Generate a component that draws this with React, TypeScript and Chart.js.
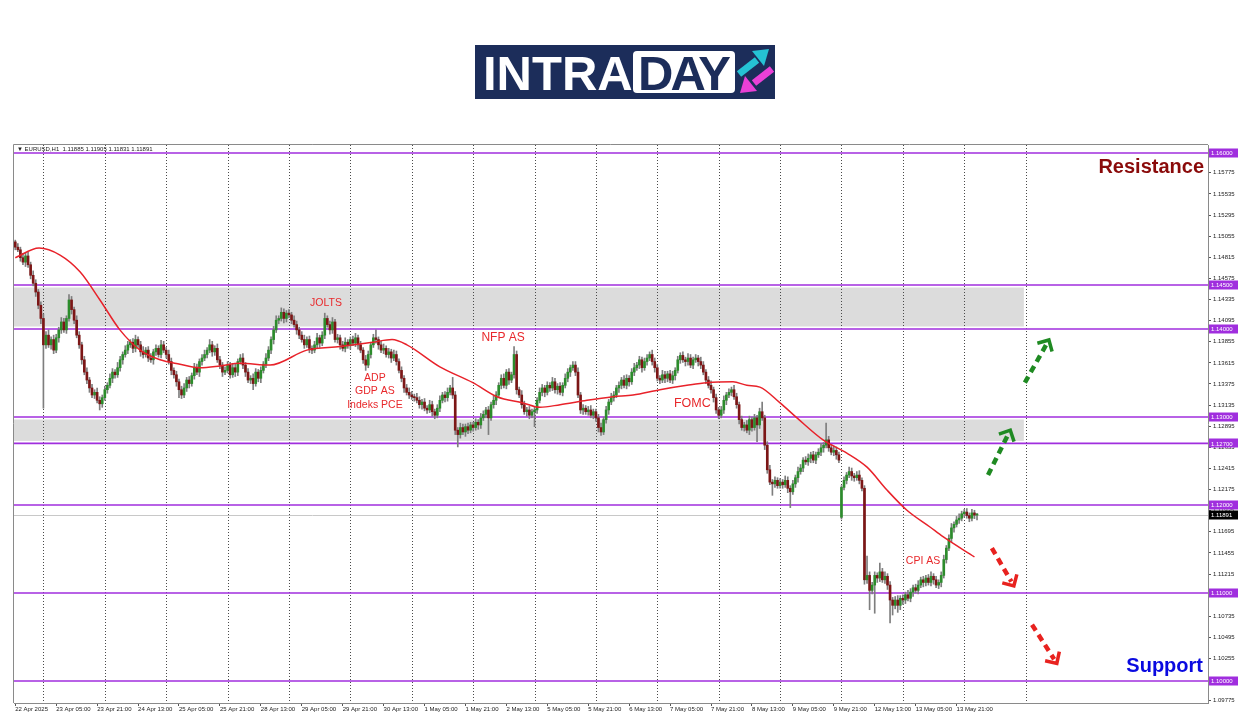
import React, { useEffect, useRef } from "react";
import { Chart, registerables } from "chart.js";

Chart.register(...registerables);

const PRICE_BASE = 1.1;
const PIP = 0.0001;

// EURUSD H1, prices in pips above 1.10000, one candle per hour: 22 Apr 13:00 -> 14 May 05:00
const firstOpenPips = 499;
const gapOpens: [number, number][] = [[323, 186]];

const closePips = [
  // 22 Apr
  493, 490, 481, 476, 483, 473, 461, 452, 442, 427, 412,
  // 23 Apr
  382, 393, 382, 388, 376, 390, 399, 408, 399, 412, 433, 422, 410, 393, 382, 365, 351, 342, 333, 325, 328, 319, 315, 322,
  // 24 Apr
  331, 336, 344, 351, 348, 356, 365, 371, 376, 382, 385, 378, 388, 382, 374, 371, 376, 367, 365, 374, 378, 371, 382, 376,
  // 25 Apr
  371, 363, 353, 348, 340, 331, 325, 333, 342, 338, 347, 356, 351, 363, 367, 371, 376, 382, 374, 378, 365, 359, 351, 353,
  // 28 Apr
  359, 348, 356, 351, 363, 367, 359, 351, 342, 344, 338, 351, 344, 353, 360, 367, 376, 388, 399, 410, 412, 419, 412, 418,
  // 29 Apr
  416, 410, 405, 399, 393, 388, 382, 388, 378, 376, 382, 390, 384, 393, 412, 405, 399, 408, 388, 390, 382, 378, 385, 381,
  // 30 Apr
  388, 384, 390, 382, 376, 365, 359, 371, 382, 390, 388, 382, 376, 378, 371, 374, 367, 371, 363, 353, 344, 333, 328, 325,
  // 1 May
  323, 322, 319, 314, 317, 310, 308, 314, 306, 302, 310, 319, 325, 322, 328, 333, 325, 285, 280, 288, 283, 289, 285, 291,
  // 2 May
  288, 294, 291, 299, 303, 308, 299, 314, 319, 325, 336, 344, 336, 351, 342, 348, 371, 331, 325, 314, 306, 308, 302, 306,
  // 5 May
  308, 319, 328, 333, 328, 336, 333, 340, 331, 335, 328, 336, 344, 351, 356, 359, 351, 325, 308, 310, 306, 308, 302, 306,
  // 6 May
  299, 288, 283, 297, 308, 317, 322, 325, 333, 336, 342, 336, 344, 340, 351, 356, 359, 365, 356, 363, 367, 371, 363, 356,
  // 7 May
  344, 342, 348, 344, 349, 342, 347, 353, 365, 370, 365, 363, 367, 359, 365, 367, 363, 359, 351, 342, 336, 331, 322, 308,
  // 8 May
  302, 308, 319, 325, 328, 331, 323, 314, 297, 288, 291, 285, 297, 288, 299, 291, 306, 299, 268, 240, 226, 224, 228, 222,
  // 9 May
  226, 223, 228, 219, 215, 224, 231, 238, 242, 251, 249, 253, 257, 251, 257, 260, 265, 268, 274, 265, 260, 262, 257, 251,
  // 12 May
  220, 228, 234, 238, 233, 231, 234, 228, 219, 115, 120, 103, 109, 120, 117, 124, 115, 119, 109, 92, 86, 92, 86, 94,
  // 13 May
  92, 98, 94, 101, 106, 103, 109, 115, 112, 117, 112, 119, 115, 109, 112, 120, 138, 151, 162, 174, 178, 183, 185, 190,
  // 14 May
  192, 188, 185, 191, 188.5, 189.1,
];

const upperWickPips = [
  2, 4, 3, 5, 3, 4, 3, 5, 4, 3, 4,
  5, 4, 6, 3, 5, 4, 3, 5, 4, 3, 6, 4, 3, 5, 4, 3, 4, 5, 3, 4, 3, 5, 4, 3,
  4, 3, 5, 4, 3, 6, 4, 3, 5, 4, 3, 4, 5, 3, 4, 6, 3, 4, 5, 3, 4, 3, 5, 4,
  3, 5, 4, 3, 4, 3, 4, 5, 3, 4, 3, 5, 4, 3, 4, 5, 3, 6, 4, 3, 5, 4, 3, 4,
  4, 3, 5, 4, 3, 4, 5, 3, 4, 3, 5, 4, 3, 4, 3, 5, 4, 3, 4, 5, 3, 5, 4, 3,
  4, 3, 5, 4, 3, 4, 5, 3, 4, 3, 4, 5, 3, 4, 6, 3, 4, 5, 3, 4, 3, 4, 5, 3,
  3, 4, 5, 3, 4, 3, 5, 4, 3, 4, 9, 3, 4, 5, 3, 4, 3, 5, 4, 3, 4, 3, 4, 5,
  4, 3, 5, 4, 3, 4, 3, 5, 4, 3, 4, 5, 3, 4, 5, 3, 12, 4, 3, 5, 4, 3, 4, 3,
  3, 4, 3, 5, 4, 3, 4, 3, 5, 4, 3, 4, 5, 3, 4, 3, 9, 4, 3, 5, 4, 3, 4, 3,
  4, 3, 5, 4, 3, 4, 3, 5, 4, 3, 4, 3, 5, 4, 3, 4, 4, 5, 3, 4, 3, 4, 5, 3,
  3, 4, 5, 3, 4, 3, 5, 4, 3, 4, 3, 5, 4, 3, 4, 5, 3, 4, 3, 4, 4, 3, 5, 4,
  4, 3, 5, 4, 3, 4, 5, 3, 4, 3, 4, 3, 5, 4, 3, 4, 3, 5, 4, 3, 4, 5, 3, 4,
  3, 4, 5, 3, 4, 3, 5, 4, 3, 4, 3, 5, 4, 3, 4, 3, 4, 11, 3, 4, 5, 3, 4, 3,
  4, 3, 5, 4, 3, 4, 3, 5, 4, 3, 4, 5, 3, 4, 3, 4, 5, 3, 19, 4, 3, 5, 4, 3,
  2, 4, 3, 5, 4, 3, 4, 5, 3, 3, 22, 4, 3, 4, 3, 10, 4, 5, 3, 4, 3, 4, 5, 3,
  4, 3, 5, 4, 3, 4, 5, 3, 4, 3, 4, 5, 3, 4, 3, 4, 5, 3, 4, 5, 3, 4, 5, 3,
  3, 4, 3, 4, 3, 1.4,
];

const lowerWickPips = [
  3, 2, 4, 3, 5, 3, 4, 3, 5, 4, 6,
  72, 4, 3, 5, 4, 3, 5, 4, 3, 4, 3, 5, 4, 3, 4, 5, 3, 4, 5, 3, 4, 3, 7, 4,
  3, 4, 3, 5, 4, 3, 4, 5, 3, 4, 3, 5, 4, 3, 5, 4, 3, 4, 3, 5, 4, 3, 4, 3,
  4, 3, 5, 4, 5, 9, 4, 3, 4, 5, 3, 4, 3, 5, 4, 3, 4, 3, 5, 4, 3, 4, 5, 3,
  3, 4, 3, 5, 4, 3, 4, 5, 3, 4, 7, 3, 4, 5, 3, 4, 3, 4, 5, 3, 4, 3, 5, 4,
  3, 4, 3, 5, 4, 3, 4, 3, 5, 4, 3, 4, 5, 3, 4, 3, 5, 4, 3, 4, 5, 3, 4, 3,
  4, 3, 4, 5, 3, 4, 6, 3, 4, 3, 4, 5, 3, 4, 3, 4, 5, 3, 4, 3, 4, 5, 3, 4,
  3, 4, 3, 4, 5, 3, 4, 3, 5, 4, 3, 4, 3, 5, 4, 3, 4, 5, 14, 4, 3, 5, 4, 3,
  4, 3, 5, 4, 3, 4, 19, 3, 4, 5, 3, 4, 3, 4, 5, 3, 4, 5, 3, 4, 3, 5, 4, 3,
  17, 4, 3, 4, 5, 3, 4, 3, 4, 5, 3, 4, 3, 4, 5, 3, 4, 3, 4, 5, 3, 4, 3, 4,
  4, 5, 4, 3, 4, 5, 3, 4, 3, 5, 4, 3, 4, 5, 3, 4, 3, 4, 5, 3, 4, 3, 4, 5,
  3, 4, 3, 5, 4, 3, 4, 5, 3, 4, 3, 5, 4, 3, 4, 3, 5, 4, 3, 4, 3, 4, 5, 4,
  4, 3, 4, 5, 3, 4, 3, 4, 5, 3, 4, 3, 5, 4, 3, 19, 4, 3, 5, 4, 3, 13, 4, 3,
  3, 4, 3, 5, 18, 3, 4, 5, 3, 4, 3, 4, 5, 3, 4, 3, 4, 5, 3, 4, 3, 4, 5, 3,
  2, 3, 4, 3, 5, 4, 3, 4, 3, 5, 4, 22, 4, 32, 5, 4, 3, 4, 5, 26, 11, 4, 8, 5,
  5, 4, 3, 4, 5, 3, 4, 3, 5, 4, 3, 4, 5, 3, 4, 5, 3, 4, 3, 4, 5, 3, 4, 3,
  4, 3, 4, 3, 4, 5.4,
];

// Moving average (red line), read at selected candle positions
const maIdx = [0, 9.3, 17.5, 25.3, 33.1, 40.9, 48.8, 56.6, 64.4, 72.2, 80, 87.9, 99.6, 114, 127, 139.8, 147.3, 153.1, 166, 178.9, 188.3, 198.5, 205.1, 213, 223.5, 233.7, 241.5, 252, 262.6, 270.4, 280.6, 286, 291.1, 299, 305.6, 315.8, 325.1, 333, 340.8, 348.6, 357.6, 362.7, 375];
const maPips = [481, 492, 484, 465, 433, 399, 376, 365, 360, 356, 358, 361, 359, 376, 380, 385, 388, 382, 357, 339, 323, 316, 311, 314, 319, 323, 325, 331, 336, 339, 340, 336, 334, 316, 299, 274, 259, 243, 217, 194, 175, 164, 141];

const xTickIdx = [0, 16, 32, 48, 64, 80, 96, 112, 128, 144, 160, 176, 192, 208, 224, 240, 256, 272, 288, 304, 320, 336, 352, 368];
const xTickLabels = [
  "22 Apr 2025", "23 Apr 05:00", "23 Apr 21:00", "24 Apr 13:00", "25 Apr 05:00", "25 Apr 21:00",
  "28 Apr 13:00", "29 Apr 05:00", "29 Apr 21:00", "30 Apr 13:00", "1 May 05:00", "1 May 21:00",
  "2 May 13:00", "5 May 05:00", "5 May 21:00", "6 May 13:00", "7 May 05:00", "7 May 21:00",
  "8 May 13:00", "9 May 05:00", "9 May 21:00", "12 May 13:00", "13 May 05:00", "13 May 21:00",
];
const daySeparatorIdx = [11, 35, 59, 83, 107, 131, 155, 179, 203, 227, 251, 275, 299, 323, 347, 371, 395];

const yTickValues = [
  1.15775, 1.15535, 1.15295, 1.15055, 1.14815, 1.14575, 1.14335, 1.14095, 1.13855, 1.13615,
  1.13375, 1.13135, 1.12895, 1.12655, 1.12415, 1.12175, 1.11935, 1.11695, 1.11455, 1.11215,
  1.10975, 1.10735, 1.10495, 1.10255, 1.10015, 1.09775,
];

const levels = [1.16, 1.145, 1.14, 1.13, 1.127, 1.12, 1.11, 1.1];
const zones: [number, number][] = [[1.14, 1.145], [1.127, 1.13]];
const zoneEndIdx = 394.3;
const lastPrice = 1.11891;
const headerText = "\u25BC EURUSD,H1  1.11885 1.11905 1.11831 1.11891";

const notes = [
  { text: "JOLTS", idx: 121.5, price: 1.14296, size: 10.5 },
  { text: "NFP AS", idx: 190.7, price: 1.13898, size: 12 },
  { text: "ADP", idx: 140.6, price: 1.13443, size: 10.5 },
  { text: "GDP AS", idx: 140.6, price: 1.13295, size: 10.5 },
  { text: "Indeks PCE", idx: 140.6, price: 1.13136, size: 10.5 },
  { text: "FOMC", idx: 264.7, price: 1.1315, size: 12.5 },
  { text: "CPI AS", idx: 354.9, price: 1.11364, size: 10.5 },
];

const arrows = [
  { from: [380.3, 1.1234], to: [389.0, 1.1285], color: "#1f8a22" },
  { from: [394.7, 1.1339], to: [404.1, 1.13875], color: "#1f8a22" },
  { from: [381.8, 1.1151], to: [390.4, 1.1108], color: "#e8221f" },
  { from: [397.5, 1.1064], to: [407.2, 1.102], color: "#e8221f" },
];

const UP = "#2c8c2c";
const DOWN = "#7c1616";
const WICK = "#7e7e7e";
const LEVEL = "#a02ede";
const FONT = '"Liberation Sans", "DejaVu Sans", Arial, sans-serif';

export default function App() {
  const ref = useRef<HTMLCanvasElement | null>(null);

  useEffect(() => {
    const canvas = ref.current;
    if (!canvas) return;
    const toPrice = (p: number) => PRICE_BASE + p * PIP;
    const opens = closePips.map((c, i) => {
      if (i === 0) return firstOpenPips;
      const g = gapOpens.find(([gi]) => gi === i);
      return g ? g[1] : closePips[i - 1];
    });
    const bodies = closePips.map((c, i) => ({ x: i, y: [toPrice(opens[i]), toPrice(c)] }));
    const wicks = closePips.map((c, i) => ({
      x: i,
      y: [toPrice(Math.min(opens[i], c) - lowerWickPips[i]), toPrice(Math.max(opens[i], c) + upperWickPips[i])],
    }));
    const bodyColors = closePips.map((c, i) => (c >= opens[i] ? UP : DOWN));
    const ma = maIdx.map((x, k) => ({ x, y: toPrice(maPips[k]) }));

    const line = (ctx: CanvasRenderingContext2D, x1: number, y1: number, x2: number, y2: number) => {
      ctx.beginPath();
      ctx.moveTo(x1, y1);
      ctx.lineTo(x2, y2);
      ctx.stroke();
    };

    const overlay = {
      id: "overlay",
      beforeDatasetsDraw(chart: any) {
        const { ctx, chartArea } = chart;
        const { left, right, top, bottom } = chartArea;
        const xs = chart.scales.x;
        const ys = chart.scales.y;
        ctx.save();
        ctx.fillStyle = "#dcdcdc";
        const zx2 = xs.getPixelForValue(zoneEndIdx);
        for (const [lo, hi] of zones) {
          const y1 = ys.getPixelForValue(hi) + 2.5;
          const y2 = ys.getPixelForValue(lo) - 2.5;
          ctx.fillRect(left, y1, zx2 - left, y2 - y1);
        }
        ctx.strokeStyle = "#4a4a4a";
        ctx.lineWidth = 1;
        ctx.setLineDash([1, 2]);
        for (const d of daySeparatorIdx) {
          const px = Math.round(xs.getPixelForValue(d)) + 0.5;
          line(ctx, px, top, px, bottom);
        }
        ctx.setLineDash([]);
        const lp = Math.round(ys.getPixelForValue(lastPrice)) + 0.5;
        ctx.strokeStyle = "#c8c8c8";
        line(ctx, left, lp, right, lp);
        ctx.strokeStyle = LEVEL;
        ctx.lineWidth = 1.6;
        for (const v of levels) {
          const py = ys.getPixelForValue(v);
          line(ctx, left, py, right, py);
        }
        ctx.strokeStyle = "#8a8a8a";
        ctx.lineWidth = 1;
        ctx.beginPath();
        ctx.moveTo(left - 0.5, bottom);
        ctx.lineTo(left - 0.5, top - 0.5);
        ctx.lineTo(right, top - 0.5);
        ctx.stroke();
        ctx.restore();
      },
      afterDraw(chart: any) {
        const { ctx, chartArea } = chart;
        const { right } = chartArea;
        const xs = chart.scales.x;
        const ys = chart.scales.y;
        ctx.save();
        // event notes
        ctx.textAlign = "center";
        ctx.textBaseline = "middle";
        ctx.fillStyle = "#e8282b";
        for (const n of notes) {
          ctx.font = `${n.size}px ${FONT}`;
          ctx.fillText(n.text, xs.getPixelForValue(n.idx), ys.getPixelForValue(n.price));
        }
        // resistance / support
        ctx.textAlign = "right";
        ctx.font = `bold 20px ${FONT}`;
        ctx.fillStyle = "#8a0a0a";
        ctx.fillText("Resistance", right - 4, ys.getPixelForValue(1.15841));
        ctx.fillStyle = "#0a0ae0";
        ctx.fillText("Support", right - 5, ys.getPixelForValue(1.1017));
        // arrows
        for (const a of arrows) {
          const x1 = xs.getPixelForValue(a.from[0]);
          const y1 = ys.getPixelForValue(a.from[1]);
          const x2 = xs.getPixelForValue(a.to[0]);
          const y2 = ys.getPixelForValue(a.to[1]);
          const ang = Math.atan2(y2 - y1, x2 - x1);
          ctx.strokeStyle = a.color;
          ctx.lineWidth = 4.5;
          ctx.lineCap = "butt";
          ctx.setLineDash([7, 5]);
          line(ctx, x1, y1, x2 - 5 * Math.cos(ang), y2 - 5 * Math.sin(ang));
          ctx.setLineDash([]);
          ctx.lineWidth = 3.5;
          ctx.lineJoin = "miter";
          const len = 12;
          ctx.beginPath();
          ctx.moveTo(x2 - len * Math.cos(ang - 0.78), y2 - len * Math.sin(ang - 0.78));
          ctx.lineTo(x2, y2);
          ctx.lineTo(x2 - len * Math.cos(ang + 0.78), y2 - len * Math.sin(ang + 0.78));
          ctx.stroke();
        }
        // price boxes on the axis
        ctx.font = `6px ${FONT}`;
        ctx.textAlign = "left";
        ctx.textBaseline = "middle";
        const box = (v: number, bg: string) => {
          const py = ys.getPixelForValue(v);
          ctx.fillStyle = bg;
          ctx.fillRect(right + 1, Math.round(py) - 4.5, 29, 9);
          ctx.fillStyle = "#ffffff";
          ctx.fillText(v.toFixed(5), right + 3, py + 0.5);
        };
        for (const v of levels) box(v, LEVEL);
        box(lastPrice, "#000000");
        // header
        ctx.fillStyle = "#222";
        ctx.font = `6px ${FONT}`;
        ctx.fillText(headerText, chartArea.left + 3, chartArea.top + 4.5);
        ctx.restore();
      },
    };

    const chart = new Chart(canvas, {
      type: "bar",
      data: {
        datasets: [
          {
            type: "line",
            label: "MA",
            data: ma,
            borderColor: "#e8222a",
            borderWidth: 1.5,
            pointRadius: 0,
            cubicInterpolationMode: "monotone",
            order: 0,
          } as any,
          {
            label: "body",
            data: bodies as any,
            backgroundColor: bodyColors,
            barThickness: 2,
            grouped: false,
            minBarLength: 1,
            order: 1,
          },
          {
            label: "wick",
            data: wicks as any,
            backgroundColor: WICK,
            barThickness: 1,
            grouped: false,
            order: 2,
          },
        ],
      },
      options: {
        animation: false,
        responsive: true,
        maintainAspectRatio: false,
        devicePixelRatio: 1,
        events: [],
        layout: { padding: { left: 14, top: 145, right: 0, bottom: 0 } },
        plugins: { legend: { display: false }, tooltip: { enabled: false } },
        scales: {
          x: {
            type: "linear",
            min: -0.5,
            max: 466.3,
            offset: false,
            afterBuildTicks: (s: any) => {
              s.ticks = xTickIdx.map((v) => ({ value: v }));
            },
            afterFit: (s: any) => {
              s.height = 13;
            },
            ticks: {
              autoSkip: false,
              maxRotation: 0,
              minRotation: 0,
              align: "start",
              padding: 0,
              color: "#222",
              font: { family: FONT, size: 6 },
              callback: (v: any) => {
                const k = xTickIdx.indexOf(Number(v));
                return k >= 0 ? xTickLabels[k] : "";
              },
            },
            grid: { drawOnChartArea: false, tickLength: 3, color: "#555", offset: false },
            border: { display: true, color: "#8a8a8a" },
          },
          y: {
            type: "linear",
            position: "right",
            min: 1.0975,
            max: 1.160909,
            beginAtZero: false,
            afterBuildTicks: (s: any) => {
              s.ticks = yTickValues.map((v) => ({ value: v }));
            },
            afterFit: (s: any) => {
              s.width = 42;
            },
            ticks: {
              color: "#222",
              padding: 2,
              font: { family: FONT, size: 6 },
              callback: (v: any) => Number(v).toFixed(5),
            },
            grid: { drawOnChartArea: false, tickLength: 3, color: "#555" },
            border: { display: true, color: "#8a8a8a" },
          },
        } as any,
      },
      plugins: [overlay],
    });
    return () => chart.destroy();
  }, []);

  const navy = "#1c2d5a";
  return (
    <div style={{ position: "fixed", left: 0, top: 0, width: 1250, height: 716, background: "#ffffff", overflow: "hidden" }}>
      <div style={{ position: "absolute", left: 0, top: 0, width: 1250, height: 716 }}>
        <canvas ref={ref} />
      </div>
      <div style={{ position: "absolute", left: 475, top: 45, width: 300, height: 54, background: navy }}>
        <span
          style={{
            position: "absolute",
            left: 8,
            top: 4,
            color: "#ffffff",
            fontFamily: FONT,
            fontWeight: 700,
            fontSize: 49,
            lineHeight: "49px",
            whiteSpace: "nowrap",
          }}
        >
          INTRA
        </span>
        <div style={{ position: "absolute", left: 158, top: 6, width: 102, height: 42, background: "#ffffff", borderRadius: 4 }}>
          <span
            style={{
              position: "absolute",
              left: 5,
              top: -2,
              color: navy,
              fontFamily: FONT,
              fontWeight: 700,
              fontSize: 49,
              lineHeight: "49px",
              letterSpacing: "-3px",
              whiteSpace: "nowrap",
            }}
          >
            DAY
          </span>
        </div>
        <svg width={300} height={54} style={{ position: "absolute", left: 0, top: 0 }}>
          <line x1={264} y1={29} x2={282} y2={15} stroke="#25c2d4" strokeWidth={7} />
          <polygon points="294,4 277,6 289,21" fill="#25c2d4" />
          <line x1={297} y1={24} x2={279} y2={38} stroke="#e940d6" strokeWidth={7} />
          <polygon points="265,48 270,31 282,46" fill="#e940d6" />
        </svg>
      </div>
    </div>
  );
}
